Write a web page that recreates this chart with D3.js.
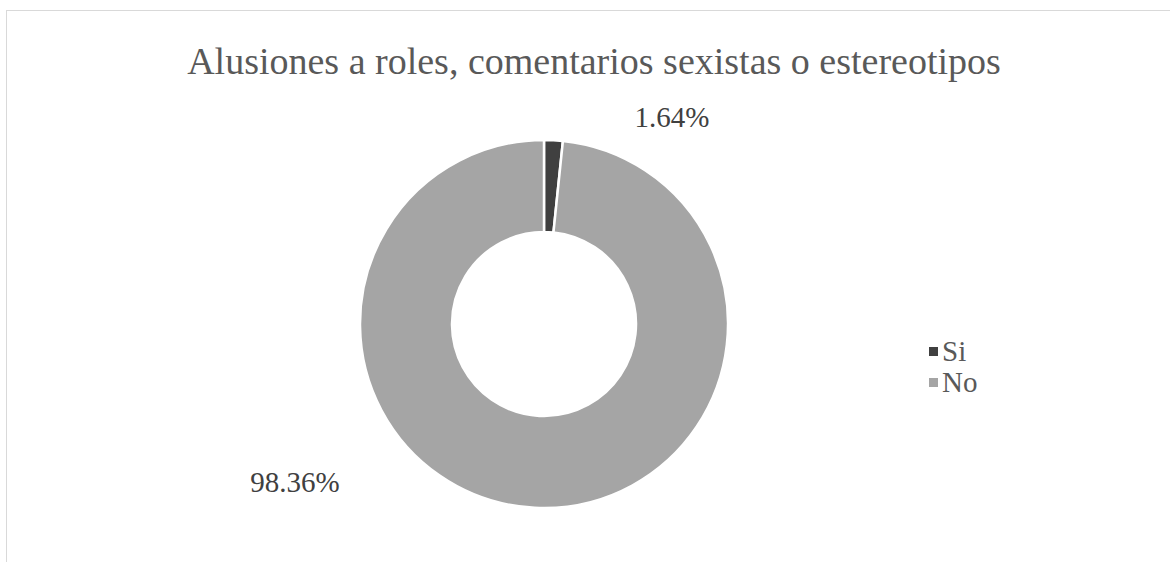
<!DOCTYPE html>
<html>
<head>
<meta charset="utf-8">
<script src="https://cdn.jsdelivr.net/npm/d3@7"></script>
<style>
  body { margin: 0; background: #fff; }
  svg { display: block; }
  text { font-family: "Liberation Serif", "Times New Roman", serif; }
</style>
</head>
<body>
<div id="chart"></div>
<script>
var title = 'Alusiones a roles, comentarios sexistas o estereotipos';
var categories = ['Si', 'No'];
var values = [1.64, 98.36];
var colors = ['#404040', '#a5a5a5'];

var width = 1170, height = 562;
var cx = 544, cy = 324;
var outerR = 184, innerR = 92;

// label placement, relative to the doughnut centre (moved by hand in the original)
var labelOffsets = [[128, -197], [-249, 168]];

var svg = d3.select('#chart').append('svg')
  .attr('width', width)
  .attr('height', height);

// chart area frame
svg.append('rect')
  .attr('x', 6.5).attr('y', 10.5)
  .attr('width', 1200).attr('height', 600)
  .attr('fill', 'none')
  .attr('stroke', '#d9d9d9')
  .attr('stroke-width', 1);

svg.append('text')
  .attr('x', 594).attr('y', 74)
  .attr('text-anchor', 'middle')
  .attr('fill', '#595959')
  .style('font-size', '38px')
  .text(title);

var pie = d3.pie().sort(null).value(function(d) { return d; });
var arc = d3.arc().innerRadius(innerR).outerRadius(outerR);

var g = svg.append('g').attr('transform', 'translate(' + cx + ',' + cy + ')');

var arcs = pie(values);
g.selectAll('path').data(arcs).enter()
  .append('path')
    .attr('d', arc)
    .attr('fill', function(d, i) { return colors[i]; })
    .attr('stroke', '#fff')
    .attr('stroke-width', 2.5);

g.selectAll('text.lbl').data(arcs).enter()
  .append('text')
    .attr('class', 'lbl')
    .attr('x', function(d, i) { return labelOffsets[i][0]; })
    .attr('y', function(d, i) { return labelOffsets[i][1]; })
    .attr('text-anchor', 'middle')
    .attr('fill', '#404040')
    .style('font-size', '29px')
    .text(function(d) { return d.data.toFixed(2) + '%'; });

// legend
var legend = svg.append('g').attr('transform', 'translate(929,347)');
var item = legend.selectAll('g').data(categories).enter()
  .append('g')
    .attr('transform', function(d, i) { return 'translate(0,' + (i * 31) + ')'; });
item.append('rect')
  .attr('x', 0).attr('y', 0)
  .attr('width', 9).attr('height', 9)
  .attr('fill', function(d, i) { return colors[i]; });
item.append('text')
  .attr('x', 13).attr('y', 14)
  .attr('fill', '#595959')
  .style('font-size', '29px')
  .text(function(d) { return d; });
</script>
</body>
</html>
